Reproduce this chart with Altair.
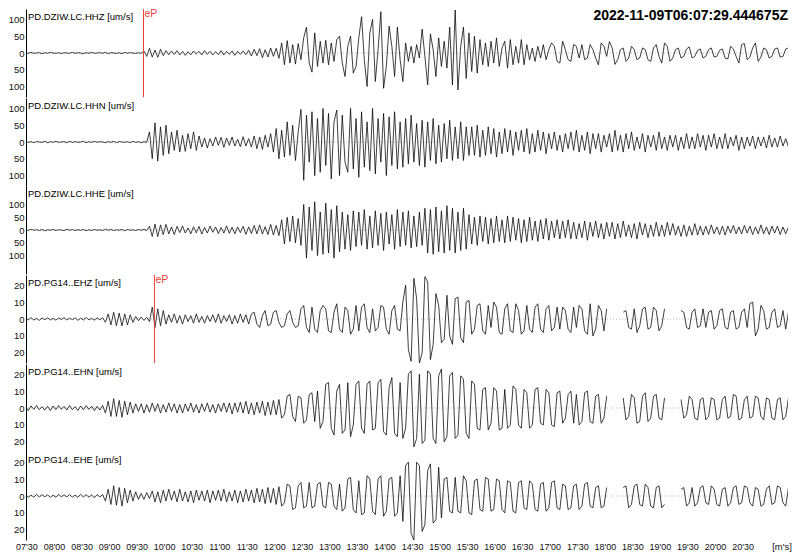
import altair as alt
import pandas as pd

# ---------------- data ----------------
T0 = 449.0          # seconds after 06:00 of the first sample
DT = 3.0            # sample spacing (s)
X_DOMAIN = [449.5, 1279.5]
TICK_SECONDS = [450, 480, 510, 540, 570, 600, 630, 660, 690, 720, 750, 780, 810,
                840, 870, 900, 930, 960, 990, 1020, 1050, 1080, 1110, 1140, 1170,
                1200, 1230]
TICK_LABELS = ["07'30", "08'00", "08'30", "09'00", "09'30", "10'00", "10'30",
               "11'00", "11'30", "12'00", "12'30", "13'00", "13'30", "14'00",
               "14'30", "15'00", "15'30", "16'00", "16'30", "17'00", "17'30",
               "18'00", "18'30", "19'00", "19'30", "20'00", "20'30"]
UNIT_LABEL = "[m's]"
TITLE = "2022-11-09T06:07:29.444675Z"

TRACE_NAMES = ["PD.DZIW.LC.HHZ [um/s]", "PD.DZIW.LC.HHN [um/s]",
               "PD.DZIW.LC.HHE [um/s]", "PD.PG14..EHZ [um/s]",
               "PD.PG14..EHN [um/s]", "PD.PG14..EHE [um/s]"]
Y_LIMITS = [131, 131, 172, 26, 26, 26]
Y_TICKS = [[-100, -50, 0, 50, 100]] * 3 + [[-20, -10, 0, 10, 20]] * 3
PICK_TIMES = [577.5, None, None, 589.4, None, None]
PICK_LABEL = "eP"

HHZ = [1,-1,2,-1,0,1,-2,1,-1,2,0,-1,1,-2,1,0,-1,2,-1,1,0,-2,1,-1,2,-1,0,1,-1,2,
       -2,1,0,-1,1,-2,2,-1,1,0,-1,1,-1,
       6,-10,14,-12,9,-13,11,-8,7,
       -5,6,-4,7,-6,5,-7,4,-5,6,-3,5,-6,7,-4,5,-6,4,-5,7,-6,5,-4,6,-7,5,-4,6,-5,8,
       -9,11,-8,13,-14,10,-12,15,-10,14,-16,
       30,-35,37,-30,25,-33,28,-20,
       45,77,-30,-57,60,
       -40,35,-30,38,-35,30,-25,40,
       50,-30,-70,20,50,-60,-40,45,
       108,-20,-100,60,100,-85,10,123,-105,-40,
       80,20,-70,77,-20,-85,
       30,-25,20,-30,25,-15,
       71,-10,-95,57,10,-70,
       45,-40,35,-45,
       77,-95,128,-110,20,77,-76,
       60,-55,50,-60,
       40,-35,30,-40,35,-30,
       45,-40,15,35,-45,40,-35,20,-30,40,-35,
       25,-20,15,-25,20,-15,25,-20,10,
       30,20,-25,-30,35,10,-20,-25,25,20,-15,
       25,-20,-15,25,10,-15,-35,30,20,-10,
       34,15,-34,-20,10,15,-25,-15,20,10,-20,
       -15,15,10,-20,-25,15,25,-10,-30,30,20,-25,-15,10,
       15,-15,-10,12,18,-15,-10,8,12,-15,-10,10,15,-12,
       -10,8,12,-15,-18,20,12,-10,-30,25,28,-20,-12,15,
       30,-25,-12,15,10,-15,-10,12,15,-12,-10,12,15,-10]

HHN = [2,-1,1,-2,1,0,-1,2,-2,1,-1,2,-1,0,1,-2,2,-1,1,-1,0,2,-2,1,-1,2,-1,1,0,-2,
       1,-1,2,-2,1,0,-1,1,-2,2,-1,1,-2,1,-1,
       30,-50,57,-57,45,-40,50,
       -35,30,-25,35,-30,20,-28,25,-20,30,-25,18,
       -15,12,-18,10,-12,15,-10,14,-16,12,-10,15,-12,8,-14,16,-12,10,-15,
       18,-20,15,-22,20,-15,25,
       -30,40,-50,35,-45,60,-40,50,-55,30,
       97,-114,80,-60,90,-100,70,
       -90,100,-70,85,-110,60,95,-100,80,-60,-90,100,-80,70,-105,90,-75,60,-85,100,
       -95,70,-60,85,-100,75,-70,90,-80,60,
       -75,70,-65,80,-60,55,-70,65,-75,60,-55,70,-65,50,-60,55,-50,65,-55,45,
       -50,60,-55,45,-40,
       45,-40,50,-45,35,-40,45,-35,40,-45,30,-35,40,-30,35,-40,30,-25,35,-30,
       40,-35,25,-30,35,-25,30,-35,25,-20,30,-25,20,
       -30,25,-20,30,-25,35,-30,20,-25,30,-35,25,-20,25,-30,20,-15,25,-30,35,
       -25,20,-30,25,-20,30,-25,15,-20,25,-30,20,-15,20,-25,30,-20,15,-25,20,
       -15,20,-25,15,-20,25,-20,15,-20,25,-15,20,-25,20,-15,25,-20,15,-20,25,
       -20,15,-12,20,-25,15,-20,15,-12,18,-20,15,-12,15,-18,20,-15,12,-15,18,
       -12,10,-15,12]

HHE = [2,-2,3,-1,1,-2,2,-3,1,-1,2,-2,1,0,-2,3,-1,2,-2,1,-1,2,-3,1,-2,2,-1,1,-2,3,
       -1,2,-2,1,-1,2,-3,2,-1,1,-2,2,-1,3,-2,
       15,-25,23,-26,20,-18,22,
       -15,12,-18,14,-10,16,-12,8,-15,13,-11,14,-16,10,-12,15,-9,12,-14,10,
       -12,16,-13,11,-15,12,-10,14,-17,12,-14,18,-15,20,-16,13,-18,22,-20,18,-22,
       40,-55,50,-45,55,-50,45,-60,
       100,-110,90,-80,110,-100,70,-95,105,-90,80,-110,95,-85,
       70,-75,60,-80,75,-65,70,-60,80,-75,55,-70,75,-60,65,-80,70,-55,60,-75,
       80,-65,70,-60,75,-70,55,-65,70,-60,
       85,-90,80,-95,90,-85,75,-90,95,-80,85,-90,70,-80,85,-75,60,
       -55,50,-60,55,-45,50,-55,45,-50,55,-45,40,-50,55,-45,50,-40,45,-50,40,
       -45,50,-40,35,-45,40,-35,45,-40,35,-30,40,-35,
       35,-30,40,-35,30,-35,25,-30,35,-40,30,-25,35,-30,25,-35,30,-25,30,-35,
       25,-30,35,-25,20,-30,25,-35,30,-20,25,-30,20,-25,30,-25,20,-25,30,-20,
       25,-20,15,-25,20,-25,15,-20,25,-20,15,
       -20,15,-18,20,-15,12,-18,15,-20,15,-12,18,-15,12,-15,18,-12,15,-18,12,
       -15,20,-15,12,-18,15,-12,15,-18,12,-15,12,-10]

EHZ = [0.5,-0.5,0.8,-0.6,0.3,-0.8,0.6,-0.4,0.7,-0.5,0.4,-0.7,0.6,-0.3,0.8,-0.6,
       0.5,-0.4,0.7,-0.8,0.5,-0.6,0.9,-0.5,0.4,-0.7,0.6,-0.5,0.8,
       -2,3,-3.5,4,-4,3.5,-4,3,-3.5,2.5,-2,1.5,
       -1,1.2,-0.8,1,-1.5,
       7,-5,6,-4,5,-3,
       2.5,-2,3,-2.5,2,-3,2.5,-1.5,2,-2.5,3,-2,1.5,-2.5,2,-1.5,2.5,-2,3,-2.5,
       2,-1.5,2.5,-3,2,-2.5,3,-2,2.5,-3,
       3,4,-3,-5,2,5,-4,-3,4,5,-2,-5,-4,3,5,-2,-5,-4,
       6,8,-5,-8,7,-6,-8,5,8,6,-7,-8,4,9,-6,-8,7,5,-9,-6,8,-7,7,9,-5,-8,6,-7,-5,8,
       7,-6,-9,5,8,-6,-7,
       10,20,-18,-25,24,12,-26,-20,25,22,-24,-15,
       15,8,-14,-12,14,-10,-15,12,13,-11,-14,10,11,
       -9,-6,8,9,-7,-9,8,-5,10,7,-8,-9,6,9,-7,-8,9,5,-9,-7,8,-6,-8,7,9,-6,-8,6,8,-7,
       -5,7,-6,
       7,5,-6,-8,7,-5,8,6,-7,-9,9,-10,-6,8,5,-7,6,
       None,None,None,None,None,
       4,5,-5,-6,6,-8,-4,6,7,-6,-5,7,5,-7,-4,6,
       None,None,None,None,None,
       5,4,-5,-6,4,6,-5,-4,6,-5,4,5,-6,-4,5,6,-5,-6,4,5,-6,-5,4,6,-5,9,10,-10,-6,8,
       5,-6,-5,4,6,-5,-4,5,-6,4,6]

EHN = [1,-1.5,1.2,-0.8,1.5,-1,0.8,-1.3,1,-1.5,1.2,-1,1.5,-0.8,1,-1.2,1.5,-1,0.8,
       -1.5,1.2,-1,1.4,-0.9,1.1,-1.5,1,-1.2,1.5,
       -3,4,-5,5.5,-5,4.5,-5.5,4,-4,3.5,-3,2.5,
       -2,2.5,-3,2,-2.5,3,-2,2.5,-3,2,-2.5,3,-2,2.5,-3,2,-3,2.5,-2,3,
       -2.5,2,-3,2.5,-2,3,-2.5,2,-3,2.5,-2,3,-2.5,3,-3.5,3,-2.5,3.5,-3,4,
       -3.5,3,-4,3.5,-3,4,-4.5,3.5,-4,4.5,-4,5,
       -6,-4,7,8,-5,-8,7,6,-9,-7,8,9,-8,10,
       -12,-8,14,15,-12,-16,10,14,-15,-13,15,-17,-10,14,16,-12,-15,14,16,-13,
       -12,15,17,-14,-16,12,18,-15,-17,15,
       -18,-12,20,22,-23,-18,20,-21,-19,22,20,-18,-21,19,23,-20,-17,19,21,-18,
       -16,19,17,-15,-18,16,14,
       -12,-13,11,12,-13,-9,12,10,-13,-12,11,-12,-10,13,11,-10,-12,11,9,-12,
       -10,11,12,-9,-10,11,9,-10,-11,9,10,
       -9,-6,8,10,-9,8,-10,-8,9,10,-8,-9,7,8,-9,-6,7,
       None,None,None,None,None,
       6,-7,-5,8,6,-9,-8,7,9,-8,-6,7,8,-6,-7,6,
       None,None,None,None,None,
       5,-6,-4,7,5,-6,-7,5,6,-7,-5,6,5,-7,-6,5,7,-6,-5,8,7,-7,-6,5,7,-6,-5,7,6,-5,
       -7,6,5,-6,-7,5,6,-7,-5,6,7]

EHE = [0.6,-0.8,0.5,-0.7,1,-0.6,0.8,-0.5,0.7,-0.9,0.6,-0.8,1,-0.5,0.7,-0.6,0.9,
       -0.7,0.5,-0.8,1,-0.6,0.8,-0.7,0.6,-1,0.8,-0.6,0.9,
       -3,4,-5,6,-5.5,5,-6,4.5,-4,3.5,-3,2.5,
       -2,1.5,-2,2,-1.5,
       3,-3.5,2.5,-4,3.5,-3,4,-2.5,3,-3.5,4,-3,2.5,-3.5,3,-4,3.5,-2.5,3,-3,
       3.5,-4,3,-2.5,3.5,-3,4,-3.5,2.5,-3,3.5,-4,3,-3.5,4,-3,3.5,-4,4.5,-3.5,
       4,-4.5,5,-4,4.5,-5,5.5,
       -6,-4,7,6,-8,-7,6,8,-7,-6,8,-7,-6,7,8,-6,-7,8,7,-6,-8,7,
       -9,-7,10,11,-8,-10,9,-11,-10,12,10,-9,-11,10,12,-12,-9,10,11,-12,-10,12,
       -15,18,20,-22,-26,20,18,-21,-17,15,19,-16,-14,17,-13,
       10,11,-9,-10,11,-9,-10,12,9,-10,-11,9,10,-8,-9,11,10,-9,-8,10,9,-8,-10,9,
       8,-9,-10,8,9,-7,-8,9,7,-8,-9,7,8,-9,-7,8,9,-7,-8,
       7,6,-8,-7,6,7,-8,-6,7,8,-6,-7,5,6,-7,-6,5,
       None,None,None,None,None,
       5,6,-7,-5,6,7,-5,-6,7,5,-6,-7,5,6,-7,-5,
       None,None,None,None,None,
       4,5,-6,-4,5,-6,-4,5,6,-4,-5,6,4,-5,-6,4,5,-6,-4,5,6,-5,-4,6,5,-4,-6,5,4,-6,
       -5,4,6,-5,-4,6,5,-4,-6,5,4]

TRACES = [HHZ, HHN, HHE, EHZ, EHN, EHE]

# ---------------- chart ----------------
W = 762
H = 88
FONT = "Liberation Sans"
RED = "#e8403c"

labels_js = "[" + ",".join('"%s"' % s for s in TICK_LABELS) + "]"
secs_js = "[" + ",".join(str(s) for s in TICK_SECONDS) + "]"
x_label_expr = "%s[indexof(%s, datum.value)]" % (labels_js, secs_js)


def trace_frame(values):
    rows = []
    seg = 0
    for i, v in enumerate(values):
        if v is None:
            seg += 1
            continue
        rows.append({"t": T0 + DT * i, "v": v, "seg": seg})
    return pd.DataFrame(rows)


panels = []
for k, values in enumerate(TRACES):
    last = k == len(TRACES) - 1
    xscale = alt.Scale(domain=X_DOMAIN, nice=False, zero=False)
    yscale = alt.Scale(domain=[-Y_LIMITS[k], Y_LIMITS[k]], nice=False, zero=False)
    if last:
        xaxis = alt.Axis(values=TICK_SECONDS, labelExpr=x_label_expr, title=None,
                         domain=False, ticks=False, grid=False, labelFontSize=9,
                         labelPadding=2, labelFlush=False, labelOverlap=False,
                         labelColor="#111", labelFont=FONT)
    else:
        xaxis = None
    yaxis = alt.Axis(values=Y_TICKS[k], labelExpr="abs(datum.value)", title=None,
                     ticks=False, grid=False, domainColor="#000", domainWidth=1,
                     labelFontSize=9.5, labelPadding=2, labelColor="#111",
                     labelFont=FONT)

    zero = alt.Chart(pd.DataFrame({"v": [0]})).mark_rule(
        color="#bbbbbb", strokeDash=[1, 2], strokeWidth=1
    ).encode(y=alt.Y("v:Q", scale=yscale, axis=yaxis))

    line = alt.Chart(trace_frame(values)).mark_line(
        color="#000000", strokeWidth=0.75, clip=True
    ).encode(
        x=alt.X("t:Q", scale=xscale, axis=xaxis),
        y=alt.Y("v:Q", scale=yscale, axis=yaxis),
        detail="seg:N",
    )

    name = alt.Chart(pd.DataFrame({"label": [TRACE_NAMES[k]]})).mark_text(
        align="left", baseline="top", fontSize=9.5, color="#000", font=FONT
    ).encode(x=alt.value(2), y=alt.value(3), text="label:N")

    layers = [zero, line, name]

    if PICK_TIMES[k] is not None:
        pick_df = pd.DataFrame({"t": [PICK_TIMES[k]], "label": [PICK_LABEL]})
        layers.append(alt.Chart(pick_df).mark_rule(color=RED, strokeWidth=1).encode(
            x=alt.X("t:Q", scale=xscale, axis=xaxis), y=alt.value(0), y2=alt.value(H)))
        layers.append(alt.Chart(pick_df).mark_text(
            align="left", baseline="top", dx=1, fontSize=10.5, color=RED, font=FONT
        ).encode(x=alt.X("t:Q", scale=xscale, axis=xaxis), y=alt.value(0),
                 text="label:N"))

    if k == 0:
        layers.append(alt.Chart(pd.DataFrame({"label": [TITLE]})).mark_text(
            align="right", baseline="top", fontSize=14, fontWeight="bold",
            color="#000", font=FONT
        ).encode(x=alt.value(W), y=alt.value(0), text="label:N"))

    if last:
        layers.append(alt.Chart(pd.DataFrame({"label": [UNIT_LABEL]})).mark_text(
            align="center", baseline="top", fontSize=9.5, color="#111", font=FONT
        ).encode(x=alt.value(W - 6), y=alt.value(H + 2), text="label:N"))

    panels.append(alt.layer(*layers).properties(width=W, height=H))

chart = alt.vconcat(*panels, spacing=0).resolve_scale(y="independent").properties(
    padding={"left": 0, "top": 0, "right": 0, "bottom": 0}
).configure(font=FONT).configure_view(stroke=None, strokeWidth=0)

chart.save("out.html", embed_options={"renderer": "svg", "actions": False})
